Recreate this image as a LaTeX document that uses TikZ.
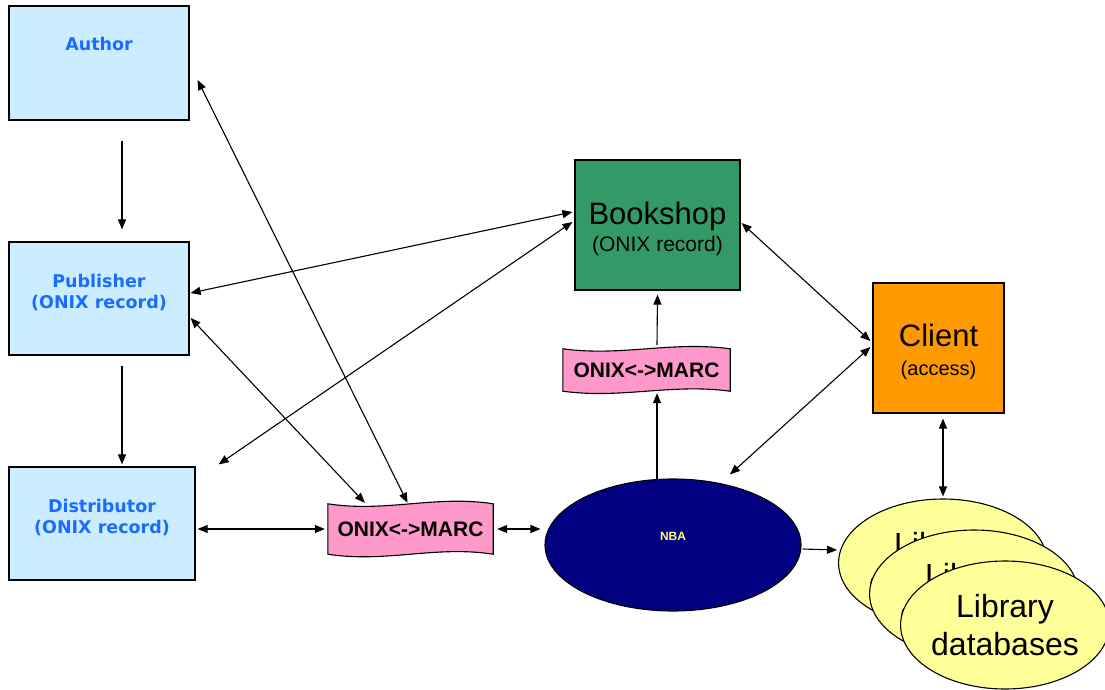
\documentclass[tikz,border=0pt]{standalone}
\usepackage{fontspec}
\setmainfont{Liberation Sans}
\newfontfamily\vfont{DejaVu Sans}
\usetikzlibrary{arrows.meta,calc,shapes.geometric}
\pgfdeclarelayer{bg}
\pgfsetlayers{bg,main}
\definecolor{lblue}{HTML}{CCECFF}
\definecolor{tblue}{HTML}{1A6BFF}
\definecolor{bgreen}{HTML}{339966}
\definecolor{corange}{HTML}{FF9900}
\definecolor{tpink}{HTML}{FF99CC}
\definecolor{navy}{HTML}{000080}
\definecolor{nyellow}{HTML}{FFFF66}
\definecolor{lyellow}{HTML}{FFFF99}
\begin{document}
\begin{tikzpicture}[x=1pt,y=-1pt,
  actor/.style={draw=black,line width=1.2pt,fill=lblue,text=tblue,align=center,
    font=\vfont\bfseries\fontsize{17.5}{20.5}\selectfont,inner sep=0pt},
  bigbox/.style={draw=black,line width=1.2pt,align=center,inner sep=0pt},
  tapetext/.style={inner sep=0pt,font=\bfseries\fontsize{21}{24}\selectfont},
  tape/.style={draw=black,line width=1.1pt,fill=tpink},
  lib/.style={ellipse,draw=black,line width=1.1pt,fill=lyellow,minimum width=200,minimum height=128,
    inner sep=0pt,align=center,font=\fontsize{32}{38}\selectfont},
  arr/.style={line width=1.1pt,-{Triangle[length=10pt,width=8pt]}},
  darr/.style={line width=1.1pt,{Triangle[length=10pt,width=8pt]}-{Triangle[length=10pt,width=8pt]}}]
\useasboundingbox (0,0) rectangle (1105,690);

% left column
\node[actor,minimum width=180,minimum height=114] (author) at (99,63) {Author\\[12pt]\strut};
\node[actor,minimum width=180,minimum height=113] (publisher) at (99,298.5) {Publisher\\(ONIX record)\\[-12pt]\strut};
\node[actor,minimum width=186,minimum height=113] (distributor) at (102,523.5) {Distributor\\(ONIX record)\\[-12pt]\strut};

% bookshop and client
\node[bigbox,fill=bgreen,minimum width=165,minimum height=130] (bookshop) at (657.5,225)
  {{\fontsize{31}{34}\selectfont\rule{0pt}{30pt}Bookshop}\\[5pt]{\fontsize{21}{24}\selectfont (ONIX record)}};
\node[bigbox,fill=corange,minimum width=131,minimum height=130] (client) at (938.5,348)
  {{\fontsize{31}{34}\selectfont\rule{0pt}{30pt}Client}\\[14pt]{\fontsize{20}{24}\selectfont (access)}};

% NBA
\node[ellipse,draw=black,line width=1.1pt,fill=navy,minimum width=256,minimum height=132,inner sep=0pt,
  text=nyellow,font=\bfseries\fontsize{12}{14}\selectfont] (nba) at (673,545) {\raisebox{18pt}{NBA}};

% tapes
\node[tapetext,minimum width=165,minimum height=50] (o1) at (410.5,529) {ONIX<->MARC};
\node[tapetext,minimum width=167,minimum height=42] (o2) at (646.5,370) {ONIX<->MARC};
\begin{pgfonlayer}{bg}
\foreach \t/\a in {o1/9,o2/8}{
  \draw[tape] (\t.north west)
    .. controls ($(\t.north west)!0.35!(\t.north east)+(0,\a)$) and ($(\t.north west)!0.65!(\t.north east)+(0,-\a)$) .. (\t.north east)
    -- (\t.south east)
    .. controls ($(\t.south west)!0.65!(\t.south east)+(0,-\a)$) and ($(\t.south west)!0.35!(\t.south east)+(0,\a)$) .. (\t.south west)
    -- cycle;
}
\end{pgfonlayer}

% library databases
\node[lib] (lib1) at (943,563) {Library\\databases};
\node[lib] (lib2) at (974,594) {Library\\databases};
\node[lib] (lib3) at (1005,625) {Library\\databases};

% connectors
\draw[arr] ([shift={(23,20)}]author.south) -- ([shift={(23,-12)}]publisher.north);
\draw[arr] ([shift={(23,10)}]publisher.south) -- ([shift={(20,-2)}]distributor.north);
\draw[darr] ([shift={(8,17)}]author.east) -- ([shift={(-3,-1)}]o1.north);
\draw[darr] ([shift={(1,19.5)}]publisher.east) -- ([shift={(37,-1)}]o1.north west);
\draw[darr] ([shift={(1,-5.5)}]publisher.east) -- ([shift={(-2,-13)}]bookshop.west);
\draw[darr] ([shift={(23,-2)}]distributor.north east) -- ([shift={(-2,-3)}]bookshop.west);
\draw[darr] ([shift={(2,5.5)}]distributor.east) -- ([shift={(-3,0)}]o1.west);
\draw[darr] ([shift={(4,0)}]o1.east) -- ([shift={(-4,-16)}]nba.west);
\draw[arr] ([shift={(-16,1)}]nba.north) -- ([shift={(10.5,2)}]o2.south);
\draw[arr] ([shift={(10.5,-4)}]o2.north) -- ([shift={(0,4)}]bookshop.south);
\draw[darr] ([shift={(1,-2)}]bookshop.east) -- ([shift={(-2,-7)}]client.west);
\draw[darr] ([shift={(57,-4)}]nba.north) -- ([shift={(-2,-1)}]client.west);
\begin{pgfonlayer}{bg}
\draw[darr] ([shift={(4.5,5)}]client.south) -- ([shift={(0,-2)}]lib1.north);
\end{pgfonlayer}
\draw[arr] ([shift={(1,4)}]nba.east) -- ([shift={(-1,-13)}]lib1.west);
\end{tikzpicture}
\end{document}
